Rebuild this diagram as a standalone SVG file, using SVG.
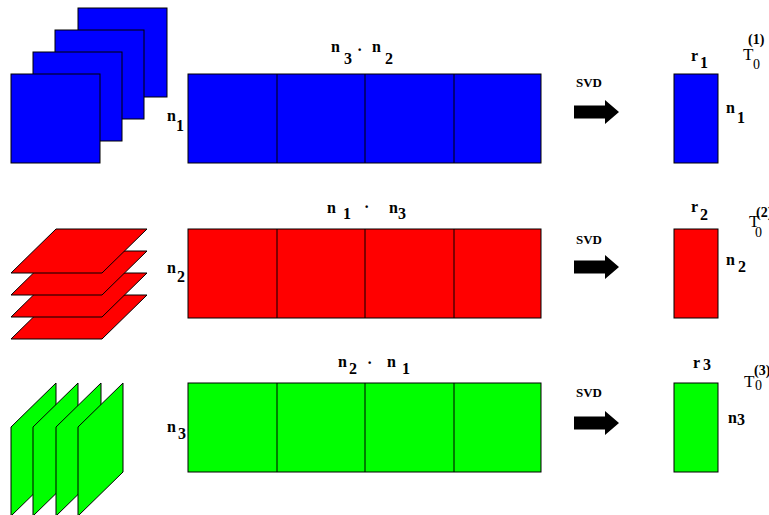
<svg xmlns="http://www.w3.org/2000/svg" width="769" height="515" viewBox="0 0 769 515">
<style>
.b{fill:#0000ff;stroke:#000;stroke-width:1}
.r{fill:#ff0000;stroke:#000;stroke-width:1}
.g{fill:#00ff00;stroke:#000;stroke-width:1}
.dv{stroke:#000;stroke-width:1}
.t{font-family:"Liberation Serif","Times New Roman",serif;font-weight:bold;font-size:16px;fill:#000}
.s{font-family:"Liberation Serif","Times New Roman",serif;font-weight:bold;font-size:16px;fill:#000}
.svd{font-family:"Liberation Serif","Times New Roman",serif;font-weight:bold;font-size:13px;fill:#000}
.T{font-family:"Liberation Serif","Times New Roman",serif;font-size:17px;fill:#000}
.T0{font-family:"Liberation Serif","Times New Roman",serif;font-size:14px;fill:#000}
.p{font-family:"Liberation Serif","Times New Roman",serif;font-weight:bold;font-size:14px;fill:#000}
.arr{fill:#000}
</style>
<defs>
<path id="para" d="M45,0 H136 L91,44 H0 Z"/>
<path id="vpara" d="M0,44 L45,0 V89 L0,133 Z"/>
<path id="arrow" d="M0,-6.5 H31 V-12 L45,0 L31,12 V6.5 H0 Z"/>
</defs>

<g id="blue-stack">
<rect class="b" x="78" y="8" width="89" height="89"/>
<rect class="b" x="55" y="30" width="89" height="89"/>
<rect class="b" x="33" y="52" width="89" height="89"/>
<rect class="b" x="11" y="74" width="89" height="89"/>
</g>
<g id="blue-matrix">
<rect class="b" x="188" y="74" width="353" height="89"/>
<line class="dv" x1="277" y1="74" x2="277" y2="163"/>
<line class="dv" x1="365" y1="74" x2="365" y2="163"/>
<line class="dv" x1="454" y1="74" x2="454" y2="163"/>
<text class="t" x="331" y="52">n</text><text class="s" x="344" y="64">3</text>
<text class="t" x="357" y="55">·</text>
<text class="t" x="372" y="52">n</text><text class="s" x="385" y="64">2</text>
<text class="t" x="167" y="121">n</text><text class="s" x="176" y="131">1</text>
</g>
<g id="blue-result">
<rect class="b" x="674" y="74" width="44" height="89"/>
<text class="t" x="691" y="61">r</text><text class="s" x="700" y="68">1</text>
<text class="t" x="726" y="113">n</text><text class="s" x="737" y="123">1</text>
<text class="T" x="743" y="60">T</text><text class="T0" x="753" y="69">0</text>
<text class="p" x="748" y="44">(1)</text>
<text class="svd" x="576" y="87">SVD</text>
</g>

<g id="red-stack">
<use href="#para" x="11" y="295" class="r"/>
<use href="#para" x="11" y="273" class="r"/>
<use href="#para" x="11" y="251" class="r"/>
<use href="#para" x="11" y="229" class="r"/>
</g>
<g id="red-matrix">
<rect class="r" x="188" y="229" width="353" height="89"/>
<line class="dv" x1="277" y1="229" x2="277" y2="318"/>
<line class="dv" x1="365" y1="229" x2="365" y2="318"/>
<line class="dv" x1="454" y1="229" x2="454" y2="318"/>
<text class="t" x="327" y="213">n</text><text class="s" x="343" y="219">1</text>
<text class="t" x="364" y="212">·</text>
<text class="t" x="389" y="213">n</text><text class="s" x="398" y="219">3</text>
<text class="t" x="167" y="273">n</text><text class="s" x="177" y="282">2</text>
</g>
<g id="red-result">
<rect class="r" x="674" y="229" width="44" height="89"/>
<text class="t" x="691" y="212">r</text><text class="s" x="700" y="220">2</text>
<text class="t" x="726" y="265">n</text><text class="s" x="738" y="272">2</text>
<text class="T" x="749" y="227">T</text><text class="T0" x="755" y="237">0</text>
<text class="p" x="756" y="217">(2)</text>
<text class="svd" x="576" y="244">SVD</text>
</g>

<g id="green-stack">
<use href="#vpara" x="11" y="383" class="g"/>
<use href="#vpara" x="33" y="383" class="g"/>
<use href="#vpara" x="56" y="383" class="g"/>
<use href="#vpara" x="78" y="383" class="g"/>
</g>
<g id="green-matrix">
<rect class="g" x="188" y="383" width="353" height="89"/>
<line class="dv" x1="277" y1="383" x2="277" y2="472"/>
<line class="dv" x1="365" y1="383" x2="365" y2="472"/>
<line class="dv" x1="454" y1="383" x2="454" y2="472"/>
<text class="t" x="338" y="367">n</text><text class="s" x="349" y="374">2</text>
<text class="t" x="367" y="368">·</text>
<text class="t" x="387" y="367">n</text><text class="s" x="402" y="374">1</text>
<text class="t" x="167" y="432">n</text><text class="s" x="178" y="439">3</text>
</g>
<g id="green-result">
<rect class="g" x="674" y="383" width="44" height="89"/>
<text class="t" x="693" y="368">r</text><text class="s" x="703" y="370">3</text>
<text class="t" x="728" y="423">n</text><text class="s" x="737" y="425">3</text>
<text class="T" x="744" y="387">T</text><text class="T0" x="755" y="390">0</text>
<text class="p" x="754" y="375">(3)</text>
<text class="svd" x="576" y="397">SVD</text>
</g>

<g id="connectors">
<use href="#arrow" x="574" y="112" class="arr"/>
<use href="#arrow" x="574" y="267" class="arr"/>
<use href="#arrow" x="574" y="423" class="arr"/>
</g>
</svg>
